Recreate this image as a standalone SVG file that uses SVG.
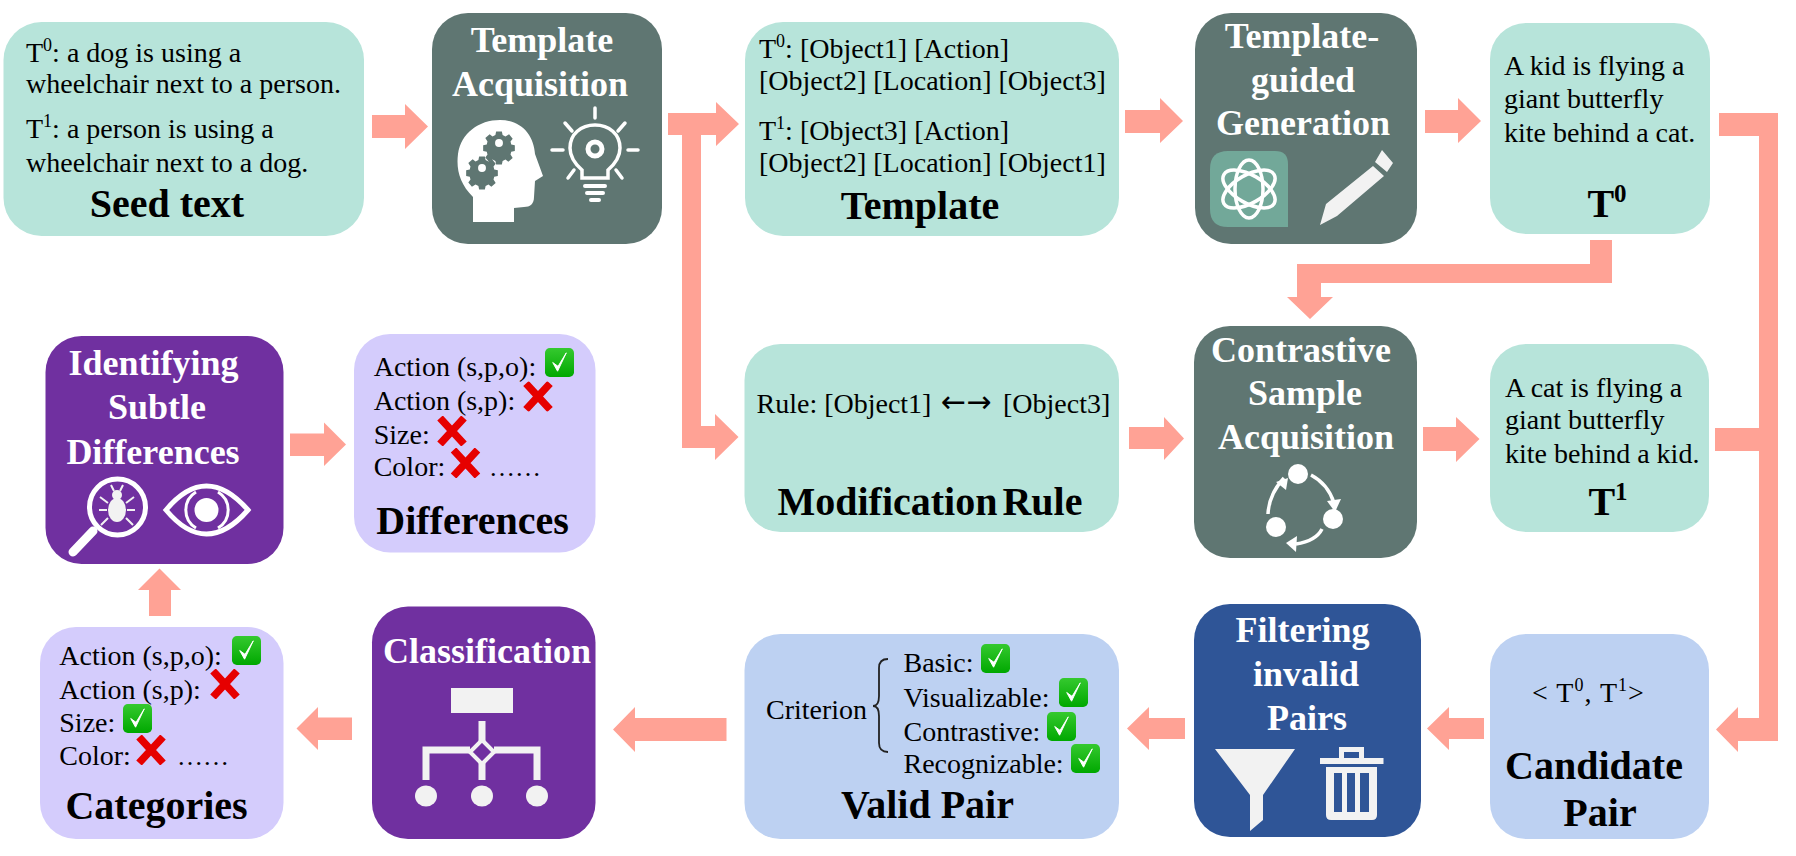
<svg xmlns="http://www.w3.org/2000/svg" width="1796" height="856" viewBox="0 0 1796 856">
<style>
text{font-family:"Liberation Serif","Times New Roman",serif}
.b{font-size:28px;fill:#000}
.e{font-size:26px;fill:#000}
.ar{font-size:30px;fill:#000;font-family:"DejaVu Sans",sans-serif}
.h{font-size:40px;font-weight:700;fill:#000;text-anchor:middle}
.w{font-size:36px;font-weight:700;fill:#fff;text-anchor:middle}
.mint{fill:#b7e4da}.teal{fill:#5f7672}.lav{fill:#d4ccfc}.pur{fill:#7030a0}.sky{fill:#bdd1f2}.blue{fill:#2f5597}
.arr{fill:#ffa295}
.ic{fill:#f2f2f2}
</style>
<defs>
<linearGradient id="gr" x1="0" y1="0" x2="0" y2="1"><stop offset="0" stop-color="#35c92f"/><stop offset="1" stop-color="#00a800"/></linearGradient>
<symbol id="check" viewBox="0 0 30 30"><rect width="30" height="30" rx="5" fill="url(#gr)"/><path d="M8 15 L13 24 L22 5 L13.500 19 Z" fill="#fff" stroke="#fff" stroke-width="1"/></symbol>
<symbol id="cross" viewBox="0 0 30 30"><path d="M3 2 L27 28 M27 2 L3 28" stroke="#e60000" stroke-width="7.500" fill="none"/></symbol>
<g id="gear"><path fill="#5f7672" d="M-4-16h8l1 5 4 2 5-3 5 6-3 4 1 4 5 1v8l-5 1-1 4 3 5-6 5-4-3-4 2-1 5h-8l-1-5-4-2-5 3-5-6 3-4-1-4-5-1v-8l5-1 1-4-3-5 6-5 4 3 4-2z"/><circle r="5.500" fill="#fff"/></g>
</defs>

<g id="connectors">
<polygon class="arr" points="372,115 405,115 405,104 428,126.500 405,149 405,138 372,138"/>
<polygon class="arr" points="668,113 716,113 716,102 739,124 716,146 716,135 701,135 701,426 715,426 715,414 738.500,437 715,460 715,448 682,448 682,135 668,135"/>
<polygon class="arr" points="1125,110 1160,110 1160,98 1183,121 1160,143 1160,133 1125,133"/>
<polygon class="arr" points="1425,110 1458,110 1458,98 1481,121 1458,143 1458,133 1425,133"/>
<polygon class="arr" points="1590,240 1612,240 1612,283 1321,283 1321,297 1333,297 1310,319 1287,297 1297,297 1297,264 1590,264"/>
<polygon class="arr" points="1129,427 1164,427 1164,417 1184,438.500 1164,460 1164,449 1129,449"/>
<polygon class="arr" points="1423,427 1456,427 1456,417 1479.500,439 1456,462 1456,451 1423,451"/>
<polygon class="arr" points="1719,113 1778,113 1778,741 1738,741 1738,752 1716,729.500 1738,707 1738,718 1759,718 1759,451 1715,451 1715,428 1759,428 1759,136 1719,136"/>
<polygon class="arr" points="1484,718 1449,718 1449,707 1427,728.500 1449,750 1449,739 1484,739"/>
<polygon class="arr" points="1185,718 1149,718 1149,707 1127,728.500 1149,750 1149,739 1185,739"/>
<polygon class="arr" points="726.500,718 635,718 635,707 613,729.500 635,752 635,741 726.500,741"/>
<polygon class="arr" points="352,717.500 318,717.500 318,707 296.500,728.500 318,750 318,740 352,740"/>
<polygon class="arr" points="149,616 149,590 138,590 159.500,568.500 181,590 171,590 171,616"/>
<polygon class="arr" points="290,433.500 324,433.500 324,422.500 346,444.500 324,466 324,456 290,456"/>
</g>

<g id="seed-text">
<rect class="mint" x="3.500" y="22" width="360.500" height="214" rx="38"/>
<text class="b" x="26" y="62">T<tspan font-size="18" dy="-11">0</tspan><tspan dy="11">: a dog is using a</tspan></text>
<text class="b" x="26" y="93">wheelchair next to a person.</text>
<text class="b" x="26" y="138">T<tspan font-size="18" dy="-11">1</tspan><tspan dy="11">: a person is using a</tspan></text>
<text class="b" x="26" y="172">wheelchair next to a dog.</text>
<text class="h" x="167" y="217">Seed text</text>
</g>

<g id="template-acquisition">
<rect class="teal" x="432" y="13" width="230" height="231" rx="36"/>
<text class="w" x="542" y="52">Template</text>
<text class="w" x="540" y="96">Acquisition</text>
<path fill="#fff" d="M473 222 L473 197 C460 184 456 170 458 154 C461 133 479 120 500 120 C522 120 534 136 535 154 L543 176 L535 181 L534 197 C534 204 530 207 524 207 L514 208 L514 222 Z"/>
<use href="#gear" transform="translate(499 143) scale(.72)"/>
<use href="#gear" transform="translate(482 168) scale(.72)"/>
<g fill="none" stroke="#fff" stroke-width="3.500" stroke-linecap="round">
<path d="M582 178 L582 170 C574 163 570 156 570 148 C570 134 581 125 595 125 C609 125 620 134 620 148 C620 156 616 163 608 170 L608 178 Z"/>
<path d="M595 108V118M552 150H563M628 150H638M565 123L572 131M625 123L618 131M568 178L574 170M622 178L616 170"/>
<path d="M585 186H605M587 193H603M591 200H599" stroke-width="4"/>
</g>
<circle cx="595" cy="149" r="7" fill="none" stroke="#fff" stroke-width="5"/>
</g>

<g id="template">
<rect class="mint" x="745" y="22" width="374" height="214" rx="38"/>
<text class="b" x="759" y="58">T<tspan font-size="18" dy="-11">0</tspan><tspan dy="11">: [Object1] [Action]</tspan></text>
<text class="b" x="759" y="90">[Object2] [Location] [Object3]</text>
<text class="b" x="759" y="140">T<tspan font-size="18" dy="-11">1</tspan><tspan dy="11">: [Object3] [Action]</tspan></text>
<text class="b" x="759" y="172">[Object2] [Location] [Object1]</text>
<text class="h" x="920" y="219">Template</text>
</g>

<g id="template-guided-generation">
<rect class="teal" x="1195" y="13" width="222" height="231" rx="36"/>
<text class="w" x="1302" y="48">Template-</text>
<text class="w" x="1303" y="92">guided</text>
<text class="w" x="1303" y="135">Generation</text>
<path fill="#72a899" d="M1228 151 H1275 Q1288 151 1288 164 V227 H1228 Q1210 227 1210 209 V169 Q1210 151 1228 151 Z"/>
<g fill="none" stroke="#fff" stroke-width="3.500">
<ellipse cx="1249" cy="189" rx="29" ry="14" transform="rotate(30 1249 189)"/>
<ellipse cx="1249" cy="189" rx="29" ry="14" transform="rotate(90 1249 189)"/>
<ellipse cx="1249" cy="189" rx="29" ry="14" transform="rotate(150 1249 189)"/>
</g>
<path class="ic" d="M1382 150 L1393 163 L1387 172 L1375 162 Z M1373 166 L1384 176 L1337 216 L1320 225 L1326 204 Z"/>
</g>

<g id="t0">
<rect class="mint" x="1490" y="23" width="220" height="211" rx="36"/>
<text class="b" x="1504" y="75">A kid is flying a</text>
<text class="b" x="1504" y="108">giant butterfly</text>
<text class="b" x="1504" y="142">kite behind a cat.</text>
<text class="h" x="1607" y="217">T<tspan font-size="25" dy="-15">0</tspan></text>
</g>

<g id="modification-rule">
<rect class="mint" x="744.500" y="344" width="374.500" height="188" rx="36"/>
<text class="b" x="756.500" y="413">Rule: [Object1]</text>
<text class="ar" x="941" y="412">←→</text>
<text class="b" x="1003" y="413">[Object3]</text>
<text class="h" x="930" y="515" word-spacing="-5">Modification Rule</text>
</g>

<g id="contrastive-sample-acquisition">
<rect class="teal" x="1194" y="326" width="223" height="232" rx="36"/>
<text class="w" x="1301" y="362">Contrastive</text>
<text class="w" x="1305" y="405">Sample</text>
<text class="w" x="1306" y="449">Acquisition</text>
<g fill="#fff"><circle cx="1298" cy="474" r="10"/><circle cx="1333" cy="519" r="10"/><circle cx="1276" cy="527" r="10"/></g>
<g fill="none" stroke="#fff" stroke-width="3.500">
<path d="M1311 475 Q1328 484 1334 503"/><path d="M1322 529 Q1316 541 1296 544"/><path d="M1268 514 Q1269 494 1284 478"/>
</g>
<g fill="#fff"><path d="M1327 501 L1341 499 L1335 512 Z"/><path d="M1297 536 L1296 552 L1286 543 Z"/><path d="M1276 482 L1288 478 L1286 490 Z"/></g>
</g>

<g id="t1">
<rect class="mint" x="1490" y="344" width="219" height="188" rx="36"/>
<text class="b" x="1505" y="397">A cat is flying a</text>
<text class="b" x="1505" y="429">giant butterfly</text>
<text class="b" x="1505" y="463">kite behind a kid.</text>
<text class="h" x="1608" y="515">T<tspan font-size="25" dy="-15">1</tspan></text>
</g>

<g id="identifying-subtle-differences">
<rect class="pur" x="45.500" y="336" width="238" height="228" rx="36"/>
<text class="w" x="153.500" y="374.700">Identifying</text>
<text class="w" x="157" y="419">Subtle</text>
<text class="w" x="153" y="463.600">Differences</text>
<circle cx="117.500" cy="507" r="28" fill="none" stroke="#fff" stroke-width="5"/>
<path d="M93 531 L73 552" stroke="#fff" stroke-width="9" stroke-linecap="round"/>
<ellipse cx="117" cy="510" rx="9" ry="12" fill="#f2f2f2"/><circle cx="117" cy="495" r="5" fill="#f2f2f2"/>
<path d="M108 503L100 497M126 503L134 497M107 510L99 510M127 510L135 510M108 518L101 525M126 518L133 525M114 491L111 485M120 491L123 485" stroke="#f2f2f2" stroke-width="2" fill="none"/>
<path d="M166 510 Q206 462 248 510 Q206 558 166 510 Z" fill="none" stroke="#fff" stroke-width="5"/>
<path d="M196 492 A21 21 0 0 0 196 528 M218 492 A21 21 0 0 1 218 528" fill="none" stroke="#fff" stroke-width="3"/>
<circle cx="206.500" cy="510" r="12" fill="#fff"/>
</g>

<g id="differences">
<rect class="lav" x="354" y="334" width="241.500" height="218.500" rx="36"/>
<text class="b" x="373.700" y="376">Action (s,p,o):</text>
<text class="b" x="373.700" y="409.600">Action (s,p):</text>
<text class="b" x="373.700" y="444">Size:</text>
<text class="b" x="373.700" y="475.600">Color:</text>
<text class="e" x="489" y="475.600">……</text>
<use href="#check" x="545" y="348" width="29" height="29"/>
<use href="#cross" x="523" y="381.500" width="30" height="30"/>
<use href="#cross" x="437" y="416" width="30" height="30"/>
<use href="#cross" x="450.500" y="448" width="30" height="30"/>
<text class="h" x="472.500" y="533.700">Differences</text>
</g>

<g id="categories">
<rect class="lav" x="40" y="627" width="243.500" height="212" rx="36"/>
<text class="b" x="59.300" y="665">Action (s,p,o):</text>
<text class="b" x="59.300" y="699">Action (s,p):</text>
<text class="b" x="59.300" y="732">Size:</text>
<text class="b" x="59.300" y="764.500">Color:</text>
<text class="e" x="177" y="764.500">……</text>
<use href="#check" x="232" y="636" width="29" height="29"/>
<use href="#cross" x="210" y="669" width="30" height="30"/>
<use href="#check" x="123" y="704" width="29" height="29"/>
<use href="#cross" x="136" y="735" width="30" height="30"/>
<text class="h" x="156.500" y="819">Categories</text>
</g>

<g id="classification">
<rect class="pur" x="372" y="606.500" width="223.500" height="232.500" rx="36"/>
<text class="w" x="487" y="663">Classification</text>
<rect class="ic" x="451" y="688" width="62" height="25"/>
<path d="M482 721V742M482 762V780M426 780V750H470M494 750H537V780" fill="none" stroke="#f2f2f2" stroke-width="7"/>
<path d="M482 740L494 752L482 764L470 752Z" fill="none" stroke="#f2f2f2" stroke-width="4"/>
<ellipse class="ic" cx="426" cy="796" rx="11" ry="10.500"/><ellipse class="ic" cx="482" cy="796" rx="11" ry="10.500"/><ellipse class="ic" cx="537" cy="796" rx="11" ry="10.500"/>
</g>

<g id="valid-pair">
<rect class="sky" x="744.500" y="634" width="374.500" height="205" rx="36"/>
<text class="b" x="766" y="719">Criterion</text>
<path d="M888 659 Q879 659 879 668 V696 Q879 706 873 706 Q879 706 879 716 V743 Q879 752 888 752" fill="none" stroke="#222" stroke-width="1.800"/>
<text class="b" x="903.500" y="672">Basic:</text>
<text class="b" x="903.500" y="707">Visualizable:</text>
<text class="b" x="903.500" y="741">Contrastive:</text>
<text class="b" x="903.500" y="773">Recognizable:</text>
<use href="#check" x="981" y="644" width="29" height="29"/>
<use href="#check" x="1059" y="678" width="29" height="29"/>
<use href="#check" x="1047" y="712" width="29" height="29"/>
<use href="#check" x="1071" y="744" width="29" height="29"/>
<text class="h" x="927.500" y="818">Valid Pair</text>
</g>

<g id="filtering-invalid-pairs">
<rect class="blue" x="1194" y="604" width="227" height="233" rx="36"/>
<text class="w" x="1302.500" y="642">Filtering</text>
<text class="w" x="1306" y="686">invalid</text>
<text class="w" x="1307" y="730">Pairs</text>
<path class="ic" d="M1215 749 H1295 L1263 795 V820 L1250 831 V795 Z"/>
<g class="ic"><rect x="1320" y="758" width="63.500" height="6"/><path d="M1339 758 V747 H1364 V758 H1359 V752 H1344 V758 Z"/><path fill-rule="evenodd" d="M1326 767 H1377 V815 Q1377 820 1372 820 H1331 Q1326 820 1326 815 Z M1334 773 V812 H1342 V773 Z M1347 773 V812 H1355 V773 Z M1360 773 V812 H1369 V773 Z"/></g>
</g>

<g id="candidate-pair">
<rect class="sky" x="1490" y="634" width="219" height="205" rx="36"/>
<text class="b" x="1532" y="702" letter-spacing="1">&lt; T<tspan font-size="18" dy="-11">0</tspan><tspan dy="11">, T</tspan><tspan font-size="18" dy="-11">1</tspan><tspan dy="11">&gt;</tspan></text>
<text class="h" x="1594" y="779">Candidate</text>
<text class="h" x="1600" y="826">Pair</text>
</g>
</svg>
